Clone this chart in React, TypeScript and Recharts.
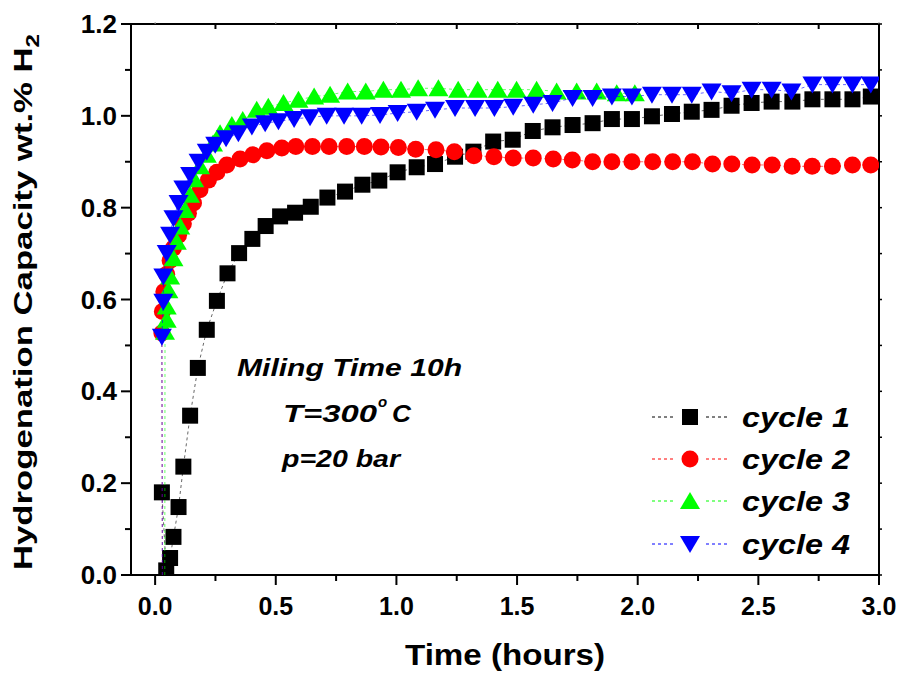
import React from 'react';
import { ScatterChart, Scatter, XAxis, YAxis } from 'recharts';

// ticks (every 0.25 h / 0.1 wt.%, labels only on the majors)
const xTicks = [0, 0.25, 0.5, 0.75, 1, 1.25, 1.5, 1.75, 2, 2.25, 2.5, 2.75, 3];
const yTicks = [0, 0.1, 0.2, 0.3, 0.4, 0.5, 0.6, 0.7, 0.8, 0.9, 1.0, 1.1, 1.2];

// cycle 1 (black squares)
const cycle1Time = [
  0.028, 0.046, 0.062, 0.076, 0.097, 0.117, 0.145, 0.177, 0.214, 0.256, 0.3, 0.348, 0.403, 0.458, 0.518,
  0.58, 0.645, 0.714, 0.787, 0.859, 0.929, 1.005, 1.084, 1.16, 1.243, 1.319, 1.401, 1.482, 1.565, 1.647,
  1.73, 1.813, 1.893, 1.976, 2.059, 2.142, 2.224, 2.306, 2.389, 2.472, 2.555, 2.641, 2.724, 2.807, 2.89, 2.966,
];
const cycle1Cap = [
  0.18, 0.01, 0.037, 0.083, 0.148, 0.236, 0.347, 0.451, 0.534, 0.597, 0.657, 0.701, 0.732, 0.76, 0.781,
  0.789, 0.802, 0.822, 0.835, 0.85, 0.859, 0.877, 0.888, 0.895, 0.911, 0.922, 0.944, 0.948, 0.967, 0.975,
  0.98, 0.984, 0.993, 0.993, 0.999, 1.004, 1.009, 1.013, 1.022, 1.028, 1.031, 1.031, 1.036, 1.036, 1.036, 1.042,
];

// cycle 2 (red circles)
const cycle2Time = [
  0.03, 0.028, 0.03, 0.036, 0.048, 0.062, 0.076, 0.097, 0.117, 0.138, 0.159, 0.186, 0.221, 0.256, 0.297,
  0.352, 0.405, 0.463, 0.525, 0.583, 0.652, 0.721, 0.794, 0.867, 0.936, 1.008, 1.08, 1.164, 1.24, 1.321,
  1.404, 1.484, 1.567, 1.65, 1.729, 1.813, 1.893, 1.976, 2.062, 2.145, 2.227, 2.31, 2.39, 2.474, 2.557,
  2.64, 2.723, 2.807, 2.89, 2.966,
];
const cycle2Cap = [
  0, 0.527, 0.574, 0.617, 0.655, 0.685, 0.712, 0.74, 0.765, 0.788, 0.81, 0.839, 0.86, 0.877, 0.893,
  0.906, 0.915, 0.924, 0.93, 0.933, 0.933, 0.933, 0.933, 0.933, 0.932, 0.931, 0.927, 0.926, 0.922, 0.913,
  0.911, 0.908, 0.908, 0.906, 0.904, 0.9, 0.9, 0.9, 0.9, 0.9, 0.9, 0.895, 0.895, 0.893, 0.893,
  0.89, 0.89, 0.89, 0.893, 0.893,
];

// cycle 3 (green triangles)
const cycle3Time = [
  0.04, 0.041, 0.048, 0.048, 0.055, 0.062, 0.076, 0.09, 0.104, 0.124, 0.145, 0.162, 0.186, 0.214, 0.24,
  0.269, 0.318, 0.363, 0.421, 0.469, 0.532, 0.594, 0.659, 0.725, 0.798, 0.873, 0.946, 1.019, 1.09, 1.174,
  1.256, 1.337, 1.42, 1.498, 1.581, 1.664, 1.747, 1.83, 1.913, 1.988,
];
const cycle3Cap = [
  0, 0.53, 0.556, 0.585, 0.62, 0.65, 0.69, 0.726, 0.759, 0.795, 0.828, 0.862, 0.89, 0.915, 0.94,
  0.962, 0.98, 0.991, 1.013, 1.02, 1.028, 1.035, 1.042, 1.046, 1.053, 1.053, 1.057, 1.057, 1.06, 1.06,
  1.057, 1.057, 1.057, 1.057, 1.057, 1.053, 1.053, 1.053, 1.049, 1.049,
];

// cycle 4 (blue down triangles)
const cycle4Time = [
  0.03, 0.028, 0.034, 0.034, 0.048, 0.062, 0.076, 0.097, 0.117, 0.145, 0.18, 0.214, 0.249, 0.294, 0.345,
  0.401, 0.456, 0.511, 0.576, 0.642, 0.711, 0.783, 0.856, 0.932, 1.005, 1.084, 1.16, 1.243, 1.326, 1.406,
  1.484, 1.567, 1.647, 1.73, 1.813, 1.893, 1.976, 2.059, 2.142, 2.224, 2.306, 2.389, 2.472, 2.555, 2.637,
  2.724, 2.807, 2.89, 2.966,
];
const cycle4Cap = [
  0, 0.519, 0.595, 0.65, 0.701, 0.741, 0.777, 0.81, 0.842, 0.871, 0.9, 0.922, 0.937, 0.951, 0.962,
  0.977, 0.984, 0.988, 0.993, 0.997, 1.0, 1.0, 1.0, 1.002, 1.006, 1.009, 1.013, 1.017, 1.017, 1.017,
  1.02, 1.024, 1.028, 1.039, 1.039, 1.042, 1.042, 1.046, 1.046, 1.046, 1.053, 1.049, 1.057, 1.057, 1.053,
  1.068, 1.068, 1.068, 1.068,
];

const cycleNames = ['cycle 1', 'cycle 2', 'cycle 3', 'cycle 4'];
const cycleColors = ['#000000', '#ff0000', '#00ff00', '#0000ff'];

const toPoints = (t: number[], c: number[]) => t.map((x, i) => ({ x, y: c[i] }));

const FONT = "'Liberation Sans', Arial, sans-serif";

type Kind = 'square' | 'circle' | 'up' | 'down';

function marker(kind: Kind, cx: number, cy: number, fill: string) {
  if (kind === 'square') return <rect x={cx - 8} y={cy - 8} width={16} height={16} fill={fill} />;
  if (kind === 'circle') return <circle cx={cx} cy={cy} r={8.5} fill={fill} />;
  if (kind === 'up')
    return <polygon points={`${cx},${cy - 9} ${cx - 10},${cy + 8} ${cx + 10},${cy + 8}`} fill={fill} />;
  return <polygon points={`${cx},${cy + 9} ${cx - 10},${cy - 8} ${cx + 10},${cy - 8}`} fill={fill} />;
}

// the run starts at zero, that point only carries the line
const makeShape = (kind: Kind, fill: string) => (props: any) => {
  if (props.payload?.y === 0) return <g />;
  return marker(kind, props.cx, props.cy, fill);
};

const isMajorX = (v: number) => Math.abs(v * 2 - Math.round(v * 2)) < 1e-6;
const isMajorY = (v: number) => Math.round(v * 10) % 2 === 0;

function BottomTick({ x, y, payload }: any) {
  const major = isMajorX(payload.value);
  return (
    <g>
      <line x1={x} x2={x} y1={y} y2={y + (major ? 10 : 6)} stroke="#000" strokeWidth={2} />
      {major && (
        <text x={x} y={y + 40} textAnchor="middle" fontFamily={FONT} fontWeight="bold" fontSize={25} fill="#000">
          {payload.value.toFixed(1)}
        </text>
      )}
    </g>
  );
}

function LeftTick({ x, y, payload }: any) {
  const major = isMajorY(payload.value);
  return (
    <g>
      <line x1={x} x2={x - (major ? 10 : 6)} y1={y} y2={y} stroke="#000" strokeWidth={2} />
      {major && (
        <text x={x - 14} y={y + 9} textAnchor="end" fontFamily={FONT} fontWeight="bold" fontSize={26} fill="#000">
          {payload.value.toFixed(1)}
        </text>
      )}
    </g>
  );
}

function TopTick({ x, y, payload }: any) {
  const major = isMajorX(payload.value);
  if (major) return <line x1={x} x2={x} y1={y} y2={y - 2} stroke="#999" strokeWidth={1} />;
  return <line x1={x} x2={x} y1={y} y2={y + 5} stroke="#000" strokeWidth={2} />;
}

function RightTick({ x, y }: any) {
  return <line x1={x} x2={x + 3} y1={y} y2={y} stroke="#000" strokeWidth={1.5} />;
}

const kinds: Kind[] = ['square', 'circle', 'up', 'down'];
const series = [
  toPoints(cycle1Time, cycle1Cap),
  toPoints(cycle2Time, cycle2Cap),
  toPoints(cycle3Time, cycle3Cap),
  toPoints(cycle4Time, cycle4Cap),
];

const legendRows = [417, 459, 501, 544];

export default function App() {
  return (
    <div style={{ position: 'absolute', left: 0, top: 0, width: 900, height: 675, background: '#fff' }}>
      <ScatterChart width={900} height={675} margin={{ top: 24, right: 21, left: 61, bottom: 40 }}>
        <XAxis
          xAxisId="bottom"
          type="number"
          dataKey="x"
          domain={[-0.1, 3]}
          ticks={xTicks}
          interval={0}
          allowDataOverflow
          height={60}
          tickSize={0}
          tickMargin={0}
          tickLine={false}
          axisLine={{ stroke: '#000', strokeWidth: 2 }}
          tick={<BottomTick />}
        />
        <XAxis
          xAxisId="top"
          orientation="top"
          mirror
          type="number"
          dataKey="x"
          domain={[-0.1, 3]}
          ticks={xTicks}
          interval={0}
          allowDataOverflow
          tickSize={0}
          tickMargin={0}
          tickLine={false}
          axisLine={{ stroke: '#000', strokeWidth: 2 }}
          tick={<TopTick />}
        />
        <YAxis
          yAxisId="left"
          type="number"
          dataKey="y"
          domain={[0, 1.2]}
          ticks={yTicks}
          interval={0}
          allowDataOverflow
          width={70}
          tickSize={0}
          tickMargin={0}
          tickLine={false}
          axisLine={{ stroke: '#000', strokeWidth: 2 }}
          tick={<LeftTick />}
        />
        <YAxis
          yAxisId="right"
          orientation="right"
          mirror
          type="number"
          dataKey="y"
          domain={[0, 1.2]}
          ticks={yTicks}
          interval={0}
          allowDataOverflow
          tickSize={0}
          tickMargin={0}
          tickLine={false}
          axisLine={{ stroke: '#000', strokeWidth: 2 }}
          tick={<RightTick />}
        />
        {series.map((pts, i) => (
          <Scatter
            key={cycleNames[i]}
            name={cycleNames[i]}
            data={pts}
            xAxisId="bottom"
            yAxisId="left"
            fill={cycleColors[i]}
            line={{ stroke: cycleColors[i], strokeWidth: 0.6, strokeDasharray: '3 3' }}
            lineType="joint"
            shape={makeShape(kinds[i], cycleColors[i])}
            isAnimationActive={false}
          />
        ))}
      </ScatterChart>

      <svg
        width={900}
        height={675}
        style={{ position: 'absolute', left: 0, top: 0, pointerEvents: 'none' }}
      >
        {/* axis titles */}
        <text
          x={32}
          y={302}
          transform="rotate(-90 32 302)"
          textAnchor="middle"
          fontFamily={FONT}
          fontWeight="bold"
          fontSize={26}
          textLength={536}
          lengthAdjust="spacingAndGlyphs"
        >
          Hydrogenation Capacity wt.% H<tspan fontSize={18} dy={7}>2</tspan>
        </text>
        <text
          x={505}
          y={665}
          textAnchor="middle"
          fontFamily={FONT}
          fontWeight="bold"
          fontSize={29}
          textLength={200}
          lengthAdjust="spacingAndGlyphs"
        >
          Time (hours)
        </text>

        {/* conditions */}
        <g fontFamily={FONT} fontWeight="bold" fontStyle="italic" fontSize={24}>
          <text x={237} y={376} textLength={225} lengthAdjust="spacingAndGlyphs">
            Miling Time 10h
          </text>
          <text x={283} y={422} textLength={94} lengthAdjust="spacingAndGlyphs">
            T=300
          </text>
          <text x={378} y={407} fontSize={15}>
            o
          </text>
          <text x={392} y={422} textLength={19} lengthAdjust="spacingAndGlyphs">
            C
          </text>
          <text x={282} y={467} textLength={118} lengthAdjust="spacingAndGlyphs">
            p=20 bar
          </text>
        </g>

        {/* legend */}
        {cycleNames.map((name, i) => {
          const cy = legendRows[i];
          return (
            <g key={name}>
              <line x1={652} x2={673} y1={cy} y2={cy} stroke={cycleColors[i]} strokeWidth={1} strokeDasharray="3 3" />
              <line x1={706} x2={727} y1={cy} y2={cy} stroke={cycleColors[i]} strokeWidth={1} strokeDasharray="3 3" />
              {marker(kinds[i], 690, cy, cycleColors[i])}
              <text
                x={742}
                y={cy + 10}
                fontFamily={FONT}
                fontWeight="bold"
                fontStyle="italic"
                fontSize={28}
                textLength={108}
                lengthAdjust="spacingAndGlyphs"
              >
                {name}
              </text>
            </g>
          );
        })}
      </svg>
    </div>
  );
}
